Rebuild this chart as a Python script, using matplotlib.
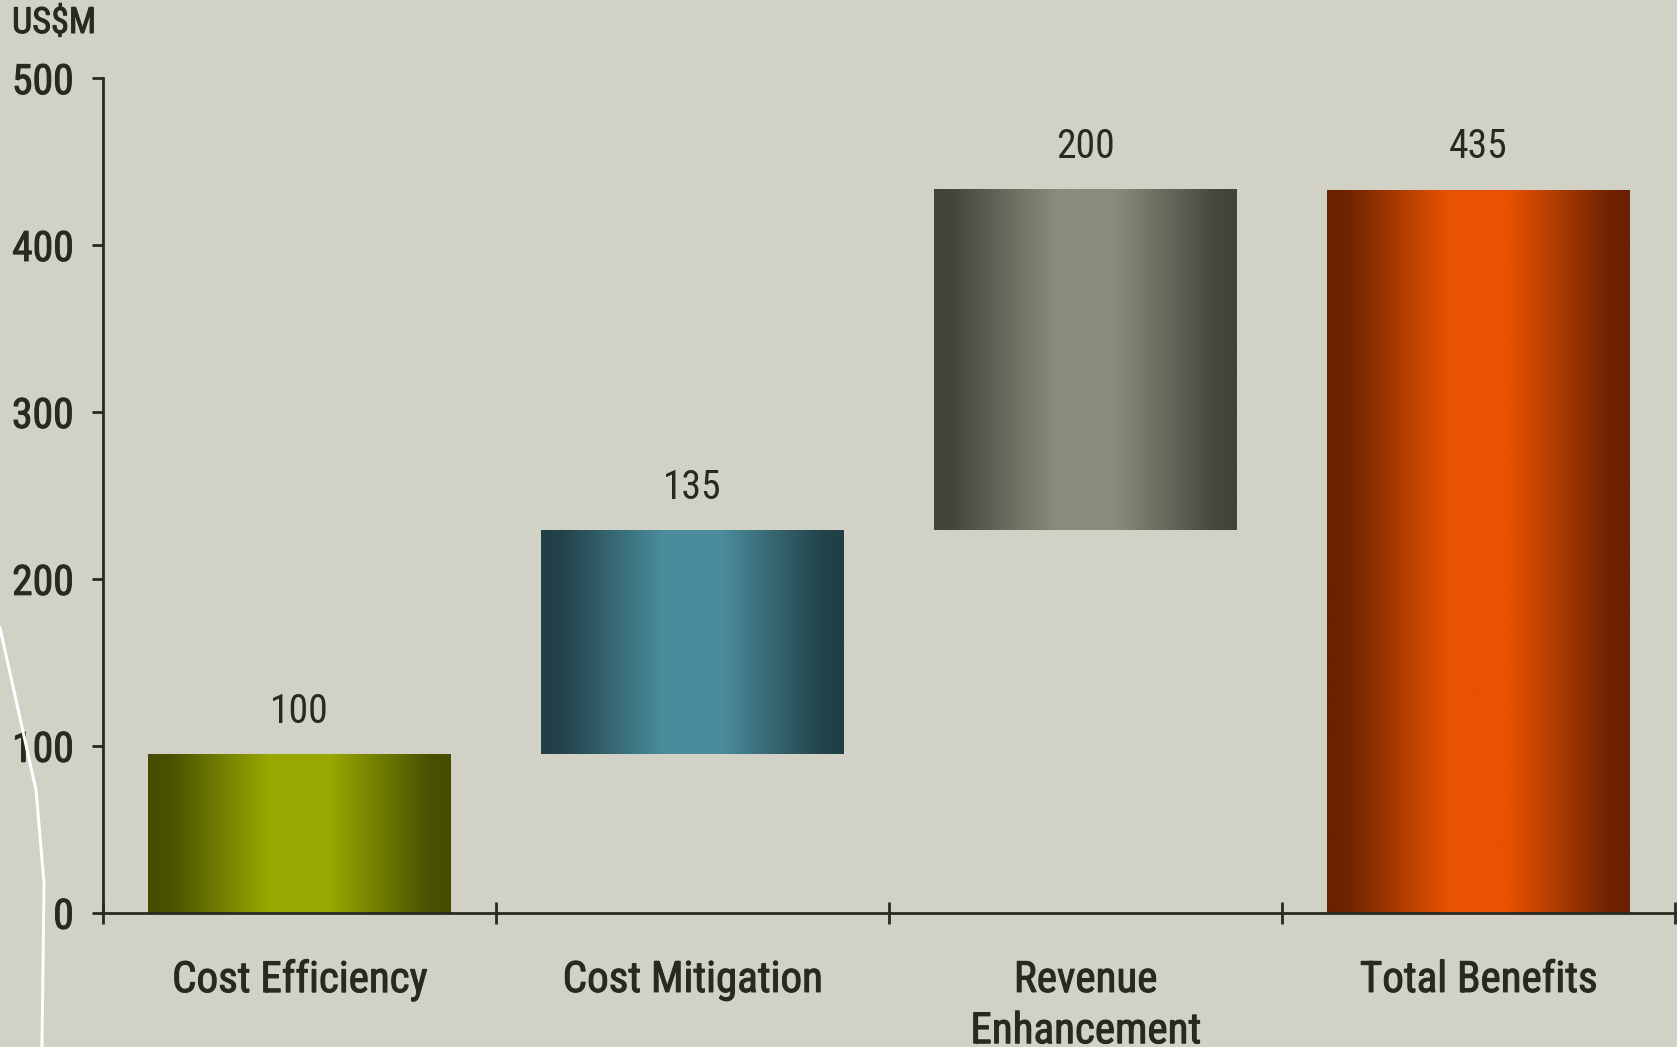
import matplotlib
matplotlib.use("Agg")
import numpy as np
import matplotlib.pyplot as plt
import matplotlib.patheffects as pe
from matplotlib.colors import LinearSegmentedColormap
from matplotlib import font_manager

# data
categories = ["Cost Efficiency", "Cost Mitigation", "Revenue\nEnhancement", "Total Benefits"]
value_labels = ["100", "135", "200", "435"]
heights = [95, 134, 204, 433]
bottoms = [0, 95, 229, 0]
edge_colors = ["#454d00", "#213f47", "#43433b", "#692100"]
center_colors = ["#98a800", "#4a8c9b", "#8b8b7b", "#e85200"]

bg = "#d1d1c5"
ink = "#272a22"

names = {f.name for f in font_manager.fontManager.ttflist}
pick = "DejaVu Sans"
for cand in ["Liberation Sans Narrow", "Roboto Condensed", "Open Sans Condensed",
             "Arial Narrow", "Liberation Sans"]:
    if cand in names:
        pick = cand
        break
plt.rcParams["font.family"] = [pick, "DejaVu Sans"]

# fake a medium weight
medium = [pe.withStroke(linewidth=0.75, foreground=ink)]

fig = plt.figure(figsize=(16.77, 10.47), dpi=100, facecolor=bg)
ax = fig.add_axes([103 / 1677, 134.3 / 1047, 1572 / 1677, 834.7 / 1047])
ax.set_facecolor(bg)

x = np.arange(len(categories))
bars = ax.bar(x, heights, bottom=bottoms, width=0.77, color="none", edgecolor="none")

grad = np.linspace(0, 1, 256)
profile = np.interp(grad, [0, 0.07, 0.4, 0.6, 0.93, 1], [0, 0.05, 1, 1, 0.05, 0])
for b, c0, c1, lab in zip(bars, edge_colors, center_colors, value_labels):
    cmap = LinearSegmentedColormap.from_list("g", [c0, c1])
    x0, w = b.get_x(), b.get_width()
    y0, h = b.get_y(), b.get_height()
    ax.imshow(profile[np.newaxis, :], extent=[x0, x0 + w, y0, y0 + h],
              aspect="auto", cmap=cmap, vmin=0, vmax=1, zorder=1)
    ax.annotate(lab, (x0 + w / 2, y0 + h), xytext=(0, 31), textcoords="offset points",
                ha="center", va="center", fontsize=28.5, color=ink)

ax.set_xlim(-0.5, 3.5)
ax.set_ylim(0, 500)

for s in ["top", "right"]:
    ax.spines[s].set_visible(False)
for s in ["left", "bottom"]:
    ax.spines[s].set_linewidth(2)
    ax.spines[s].set_color(ink)
    ax.spines[s].set_zorder(3)

ax.set_yticks(range(0, 501, 100))
ax.tick_params(axis="y", direction="out", length=8, width=2, color=ink,
               labelsize=30, labelcolor=ink, pad=13)
for t in ax.get_yticklabels():
    t.set_path_effects(medium)
ax.set_xticks(np.arange(-0.5, 4, 1))
ax.set_xticklabels([])
ax.tick_params(axis="x", which="major", direction="inout", length=16, width=2, color=ink)
ax.set_xticks(x, minor=True)
ax.set_xticklabels(categories, minor=True, fontsize=31, color=ink, linespacing=1.32)
ax.tick_params(axis="x", which="minor", length=0, pad=34)
for t in ax.get_xticklabels(minor=True):
    t.set_path_effects(medium)

fig.text(12 / 1677, 1 - 23 / 1047, "US$M", fontsize=26, color=ink, ha="left", va="center",
         path_effects=medium)

# white decorative stroke on the left edge of the slide
px = [0, 36, 44, 42]
py = [628, 790, 883, 1047]
fig.add_artist(plt.Line2D([v / 1677 for v in px], [1 - v / 1047 for v in py],
                          color="white", lw=2.2, transform=fig.transFigure))

fig.savefig("out.png", dpi=100, facecolor=bg)
